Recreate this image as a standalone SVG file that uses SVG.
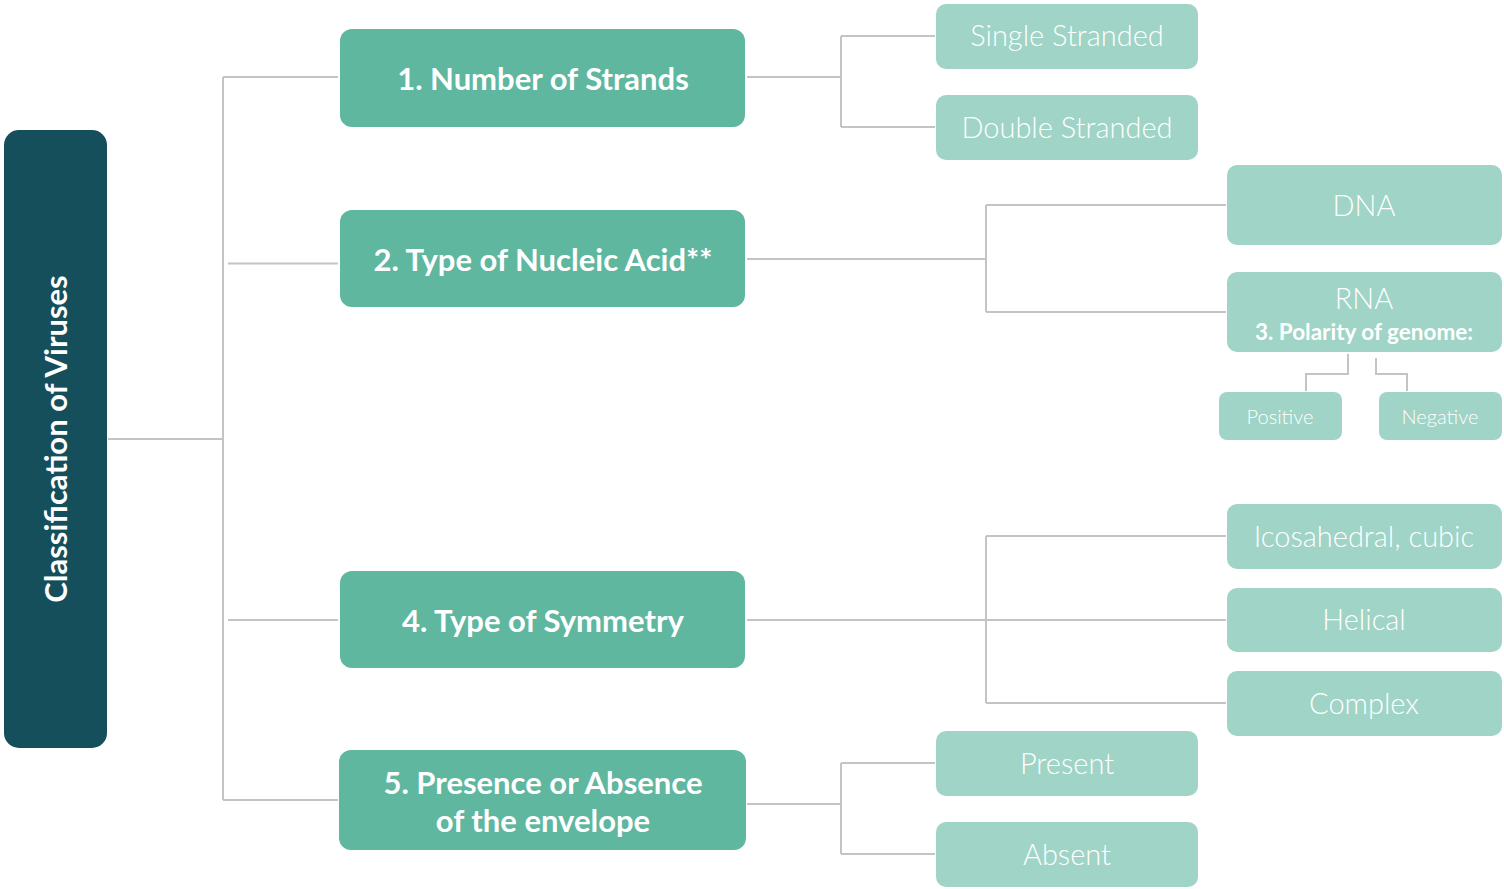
<svg xmlns="http://www.w3.org/2000/svg" width="1504" height="889" viewBox="0 0 1504 889">
<style>
.root{fill:#164f5c}
.mid{fill:#5fb7a0}
.lt{fill:#a0d4c6}
.conn{fill:none;stroke:#c4c4c4;stroke-width:2}
text{font-family:Lato,"Open Sans","Liberation Sans",sans-serif;fill:#ffffff;text-anchor:middle}
.tb{font-weight:700;font-size:31px}
.tl{font-weight:300;font-size:29px}
.ts{font-weight:300;font-size:20px}
.tp{font-weight:700;font-size:22.5px}
</style>
<rect width="1504" height="889" fill="#ffffff"/>
<g id="connectors">
<path class="conn" d="M108 439H223M223 77V800M223 77H338M228 263.5H338M228 620H338M223 800H338"/>
<path class="conn" d="M747 77H841M841 36V127M841 36H935M841 127H935"/>
<path class="conn" d="M747 259H986M986 205V312M986 205H1226M986 312H1226"/>
<path class="conn" d="M1348 354V374H1306V391M1376 358V374H1407V391"/>
<path class="conn" d="M747 620H1226M986 536V703M986 536H1226M986 703H1226"/>
<path class="conn" d="M747 804H841M841 763V854M841 763H935M841 854H935"/>
</g>
<g id="root">
<rect class="root" x="4" y="130" width="103" height="618" rx="15"/>
<text class="tb" transform="translate(67 439) rotate(-90)">Classification of Viruses</text>
</g>
<g id="n1">
<rect class="mid" x="340" y="29" width="405" height="98" rx="12"/>
<text class="tb" x="543" y="90">1. Number of Strands</text>
</g>
<g id="n2">
<rect class="mid" x="340" y="210" width="405" height="97" rx="12"/>
<text class="tb" x="543" y="271">2. Type of Nucleic Acid**</text>
</g>
<g id="n4">
<rect class="mid" x="340" y="571" width="405" height="97" rx="12"/>
<text class="tb" x="543" y="632">4. Type of Symmetry</text>
</g>
<g id="n5">
<rect class="mid" x="339" y="750" width="407" height="100" rx="12"/>
<text class="tb" x="543" y="794">5. Presence or Absence</text>
<text class="tb" x="543" y="832">of the envelope</text>
</g>
<g id="single">
<rect class="lt" x="936" y="4" width="262" height="65" rx="10"/>
<text class="tl" x="1067" y="46">Single Stranded</text>
</g>
<g id="double">
<rect class="lt" x="936" y="95" width="262" height="65" rx="10"/>
<text class="tl" x="1067" y="138">Double Stranded</text>
</g>
<g id="dna">
<rect class="lt" x="1227" y="165" width="275" height="80" rx="10"/>
<text class="tl" x="1364" y="216">DNA</text>
</g>
<g id="rna">
<rect class="lt" x="1227" y="272" width="275" height="80" rx="10"/>
<text class="tl" x="1364" y="309">RNA</text>
<text class="tp" x="1364" y="340">3. Polarity of genome:</text>
</g>
<g id="positive">
<rect class="lt" x="1219" y="392" width="123" height="48" rx="8"/>
<text class="ts" x="1280" y="424">Positive</text>
</g>
<g id="negative">
<rect class="lt" x="1379" y="392" width="123" height="48" rx="8"/>
<text class="ts" x="1440" y="424">Negative</text>
</g>
<g id="icosa">
<rect class="lt" x="1227" y="504" width="275" height="65" rx="10"/>
<text class="tl" x="1364" y="547">Icosahedral, cubic</text>
</g>
<g id="helical">
<rect class="lt" x="1227" y="588" width="275" height="64" rx="10"/>
<text class="tl" x="1364" y="630">Helical</text>
</g>
<g id="complex">
<rect class="lt" x="1227" y="671" width="275" height="65" rx="10"/>
<text class="tl" x="1364" y="714">Complex</text>
</g>
<g id="present">
<rect class="lt" x="936" y="731" width="262" height="65" rx="10"/>
<text class="tl" x="1067" y="774">Present</text>
</g>
<g id="absent">
<rect class="lt" x="936" y="822" width="262" height="65" rx="10"/>
<text class="tl" x="1067" y="865">Absent</text>
</g>
</svg>
